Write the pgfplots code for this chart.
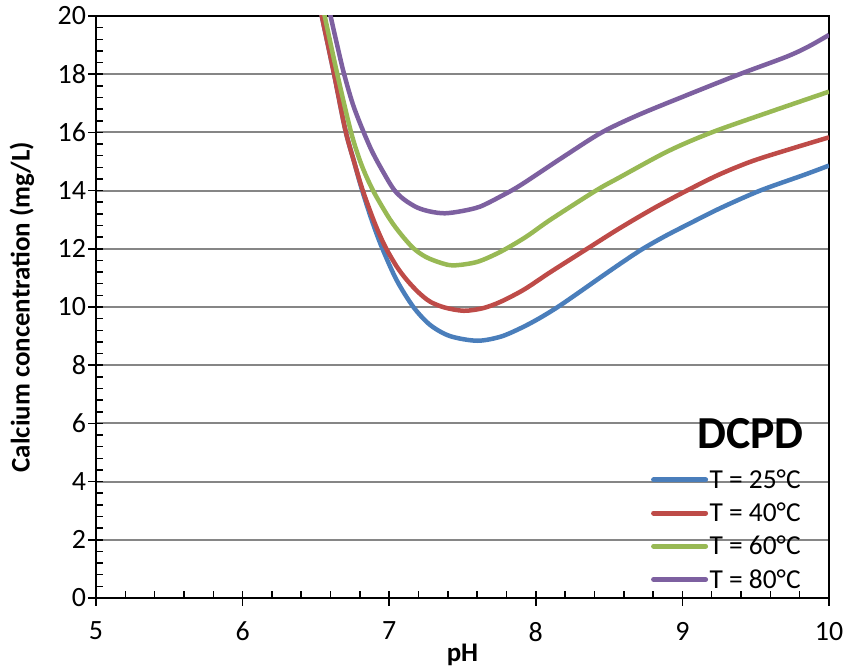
\documentclass[border=0pt]{standalone}
\usepackage{pgfplots}
\pgfplotsset{compat=1.18}
\usepackage{fontspec}
\setmainfont{Carlito}
\definecolor{c25}{HTML}{4A7EBB}
\definecolor{c40}{HTML}{BE4B48}
\definecolor{c60}{HTML}{98B954}
\definecolor{c80}{HTML}{7D60A0}
\definecolor{gridg}{HTML}{868686}
\begin{document}
\begin{tikzpicture}
\begin{axis}[
  name=ax,
  width=733bp, height=582bp, scale only axis,
  xmin=5, xmax=10, ymin=0, ymax=20,
  xtick={5,6,7,8,9,10}, ytick={0,2,...,20},
  minor x tick num=4, minor y tick num=4,
  xtick pos=bottom, ytick pos=left,
  tick align=center,
  major tick length=15bp, minor tick length=7bp,
  minor x tick style={yshift=3.5bp},
  minor y tick style={xshift=3.5bp},
  every tick/.style={black, line width=1.5bp},
  axis line style={black, line width=2bp},
  ymajorgrids, major grid style={gridg, line width=2bp},
  /pgf/number format/assume math mode=true,
  tick label style={font=\fontsize{28}{32}\selectfont},
  xticklabel style={yshift=-13bp},
  yticklabel style={xshift=1bp},
  xlabel={\textbf{pH}}, ylabel={\textbf{Calcium concentration (mg/L)}},
  label style={font=\fontsize{27}{31}\selectfont},
  xlabel style={at={(rel axis cs:0.5,-0.0979)}, anchor=center},
  ylabel style={at={(rel axis cs:-0.101,0.5)}, anchor=center},
  clip=true,
  legend style={draw=none, fill=none, at={(rel axis cs:0.757,0.2234)}, anchor=north west,
    font=\fontsize{27.5}{31}\selectfont, row sep=10bp, inner sep=0pt,
    nodes={inner sep=1.5bp}},
  legend cell align=left,
  legend image code/.code={\draw[#1, line width=5bp, line cap=round] (0bp,0bp) -- (52bp,0bp);},
  every axis plot/.append style={line width=4.5bp, smooth, tension=0.5},
]
\addplot[c25] coordinates {
(6.52,20.5) (6.54,20) (6.62,18.1) (6.70,16.1) (6.76,15) (6.81,14.1) (6.88,13) (6.95,12.05)
(7.05,10.93) (7.165,10.0) (7.28,9.38) (7.415,9.0) (7.60,8.84) (7.76,8.98) (7.90,9.28)
(8.02,9.6) (8.15,10.0) (8.30,10.52) (8.45,11.05) (8.60,11.57) (8.73,12.0) (8.88,12.43)
(9.03,12.82) (9.26,13.4) (9.53,14.0) (9.83,14.54) (10,14.86)};
\addplot[c40] coordinates {
(6.52,20.5) (6.54,20) (6.62,18.1) (6.70,16.1) (6.76,15) (6.82,14) (6.90,12.9) (6.97,12.1)
(7.05,11.4) (7.12,10.93) (7.20,10.5) (7.28,10.18) (7.38,9.98) (7.51,9.87) (7.64,9.96)
(7.76,10.18) (7.92,10.6) (8.10,11.2) (8.35,12) (8.57,12.7) (8.80,13.38) (9.03,14)
(9.25,14.55) (9.48,15.02) (9.75,15.45) (10,15.83)};
\addplot[c60] coordinates {
(6.54,20.5) (6.56,20) (6.646,18) (6.74,16) (6.81,14.9) (6.89,14) (7.0,13.05) (7.08,12.5)
(7.165,12.02) (7.25,11.72) (7.35,11.52) (7.44,11.43) (7.60,11.55) (7.76,11.9) (7.93,12.4)
(8.10,13.0) (8.41,14) (8.57,14.45) (8.90,15.35) (9.20,16) (9.60,16.71) (10,17.4)};
\addplot[c80] coordinates {
(6.58,20.5) (6.60,20) (6.645,19) (6.69,18.05) (6.75,17) (6.81,16.2) (6.88,15.38)
(6.95,14.72) (7.03,14.05) (7.10,13.7) (7.19,13.42) (7.28,13.28) (7.38,13.22) (7.50,13.3)
(7.62,13.45) (7.76,13.8) (7.90,14.2) (8.20,15.2) (8.45,16) (8.70,16.6) (9.03,17.28)
(9.39,18) (9.71,18.6) (9.86,18.95) (10,19.35)};
\legend{T = 25°C, T = 40°C, T = 60°C, T = 80°C}
\node[font=\fontsize{46}{50}\selectfont\bfseries] at (rel axis cs:0.893,0.282) {DCPD};
\end{axis}
\path[use as bounding box] ([xshift=-96bp,yshift=-73bp]ax.south west) rectangle ([xshift=19bp,yshift=16bp]ax.north east);
\end{tikzpicture}
\end{document}
